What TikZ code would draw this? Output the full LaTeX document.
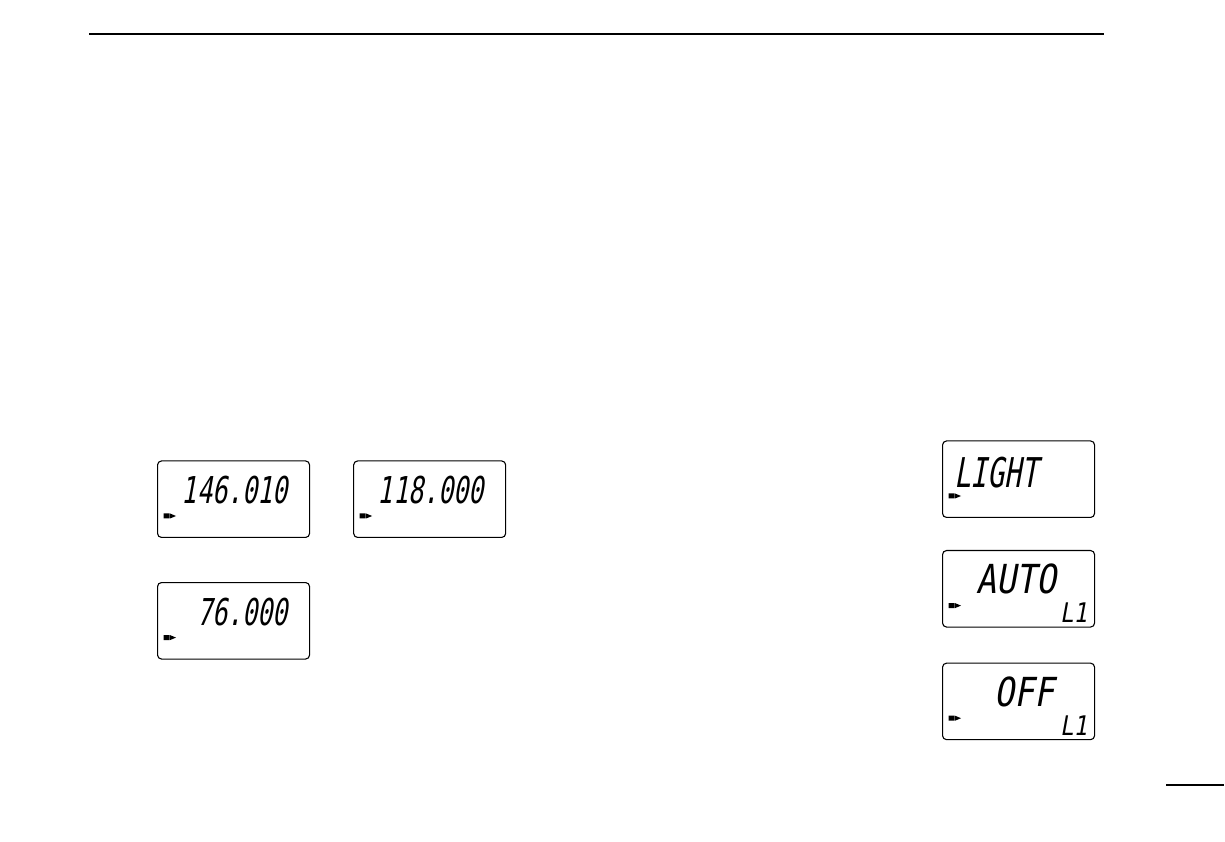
\documentclass[tikz,border=0pt]{standalone}
\usepackage{fontspec}
\usepackage{tikz}
\usetikzlibrary{positioning}
\newfontfamily\lcdfont{DejaVu Sans Mono}[FakeStretch=0.68,FakeSlant=0.18]
\newfontfamily\lcdwidefont{DejaVu Sans Mono}[FakeStretch=0.83,FakeSlant=0.18]

\begin{document}
\begin{tikzpicture}
	[x=1pt, y=1pt, font=\footnotesize,
	% STYLES
	% The lcd style is used for the frame of each display
	lcd/.style={rectangle, draw, rounded corners=4pt, line width=1.1pt, minimum width=152pt, minimum height=76.5pt, inner sep=0pt},
	% frequency read outs
	lcdnum/.style={inner sep=0pt, font=\lcdfont\fontsize{37}{37}\selectfont},
	% narrow words
	lcdword/.style={inner sep=0pt, font=\lcdfont\fontsize{41}{41}\selectfont},
	% wide words
	lcdwide/.style={inner sep=0pt, font=\lcdwidefont\fontsize{40}{40}\selectfont},
	% small channel read out
	lcdsub/.style={inner sep=0pt, font=\lcdwidefont\fontsize{27}{27}\selectfont}]

	\useasboundingbox (0,0) rectangle (1225,841);

	% Draw displays
	\node [lcd, anchor=south west] (lcd1) at (157,303) {};
	\node [lcd, right=43pt of lcd1] (lcd2) {};
	\node [lcd, below=44pt of lcd1] (lcd3) {};

	\node [lcd, anchor=south west] (lcdlight) at (942,323) {};
	\node [lcd, below=32pt of lcdlight] (lcdauto) {};
	\node [lcd, below=35pt of lcdauto] (lcdoff) {};

	%%%%%%%%%%%%%%%
	% Read outs
	\node [lcdnum, anchor=base east, xshift=-22pt, yshift=34pt] (freq1) at (lcd1.south east) {146.010};
	\node [lcdnum, anchor=base east, xshift=-22pt, yshift=34pt] (freq2) at (lcd2.south east) {118.000};
	\node [lcdnum, anchor=base east, xshift=-22pt, yshift=34pt] (freq3) at (lcd3.south east) {76.000};

	\node [lcdword, anchor=base west, xshift=12pt, yshift=30pt] (light) at (lcdlight.south west) {LIGHT};
	\node [lcdwide, anchor=base west, xshift=34pt, yshift=34pt] (auto) at (lcdauto.south west) {AUTO};
	\node [lcdwide, anchor=base west, xshift=52.5pt, yshift=34pt] (off) at (lcdoff.south west) {OFF};
	\node [lcdsub, anchor=base west, xshift=118pt, yshift=5pt] (chauto) at (lcdauto.south west) {L1};
	\node [lcdsub, anchor=base west, xshift=118pt, yshift=5pt] (choff) at (lcdoff.south west) {L1};

	% indicators
	\foreach \b in {lcd1,lcd2,lcd3,lcdlight,lcdauto,lcdoff}
		\fill ([shift={(6.5,19.5)}]\b.south west) rectangle ++(6,5)
			([shift={(13,19.5)}]\b.south west) -- ++(0,5) -- ++(6,-2.5) -- cycle;

	% rules
	\draw[line width=2.2pt] (89,807) -- (1104,807);
	\draw[line width=1.2pt] (1166,56) -- (1224,56);
\end{tikzpicture}
\end{document}
